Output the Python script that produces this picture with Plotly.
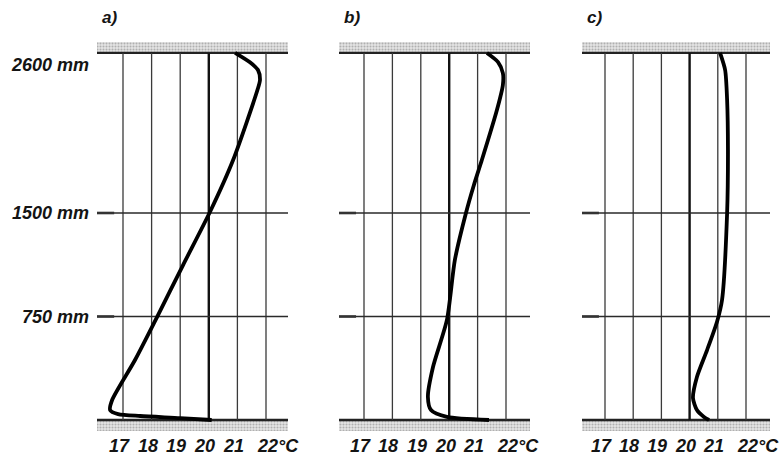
import plotly.graph_objects as go

# Temperature grid (°C) and labelled heights (mm)
grid_temps = [17, 18, 19, 20, 21, 22]
temp_labels = ["17", "18", "19", "20", "21", "22°C"]
height_marks = [750, 1500]
height_labels = ["750 mm", "1500 mm", "2600 mm"]
height_label_pos = [750, 1500, 2600]

CEILING = 2660   # underside of the ceiling slab, mm
SLAB = 80        # drawn slab thickness, mm

# Vertical temperature profiles: a) b) c)
a_temp = [20.92, 21.45, 21.72, 21.79, 21.70, 20.85, 20.04, 19.10, 18.19, 17.42, 16.62, 16.55, 16.83, 17.60, 19.00, 20.10]
a_h = [2660, 2590, 2536, 2464, 2391, 1884, 1507, 1123, 746, 435, 145, 72, 43, 29, 14, 0]

b_temp = [21.33, 21.72, 21.89, 21.89, 21.68, 21.15, 20.87, 20.59, 20.20, 19.92, 19.43, 19.25, 19.36, 19.92, 21.40]
b_h = [2660, 2594, 2514, 2428, 2246, 1884, 1703, 1500, 1160, 725, 384, 167, 72, 22, 0]

c_temp = [21.08, 21.26, 21.33, 21.36, 21.33, 21.15, 20.97, 20.62, 20.26, 20.12, 20.26, 20.51, 20.69]
c_h = [2660, 2536, 2319, 1957, 1500, 870, 710, 507, 312, 159, 72, 22, 0]

profiles = [("a)", a_temp, a_h), ("b)", b_temp, b_h), ("c)", c_temp, c_h)]

W, H = 779, 462
# panel geometry in pixels: left/right edge of slabs, position of 17 and 22 lines
panels_px = [(97, 288, 123, 266), (339, 530, 364, 506), (582, 770, 605, 746)]
floor_px, px_per_mm = 420.0, 0.138
y_range = [(floor_px - H) / px_per_mm, floor_px / px_per_mm]

FONT = "Liberation Sans"
TXT = "#141414"
fig = go.Figure()
layout = dict(width=W, height=H, margin=dict(l=0, r=0, t=0, b=0),
              plot_bgcolor="rgba(0,0,0,0)", paper_bgcolor="white", showlegend=False)

annotations = []
for i, ((letter, temps, hs), (l, r, x17, x22)) in enumerate(zip(profiles, panels_px)):
    k = "" if i == 0 else str(i + 1)
    xa, ya = "x" + k, "y" + k
    scale = (x22 - x17) / 5.0
    xmin = 17 - (x17 - l) / scale
    xmax = 22 + (r - x22) / scale
    layout["xaxis" + k] = dict(domain=[0, 1], range=[17 - x17 / scale, 17 + (W - x17) / scale],
                               visible=False, fixedrange=True)
    layout["yaxis" + k] = dict(domain=[0, 1], range=y_range, visible=False, fixedrange=True)

    # slabs: ceiling and floor, stippled
    for y0, y1 in [(CEILING, CEILING + SLAB), (-SLAB, 0)]:
        fig.add_trace(go.Scatter(
            x=[xmin, xmax, xmax, xmin, xmin], y=[y0, y0, y1, y1, y0],
            mode="lines", fill="toself", line=dict(width=0, color="rgba(0,0,0,0)"),
            fillcolor="#d8d8d8",
            fillpattern=dict(shape=".", size=3, solidity=0.4, fgcolor="#7a7a7a", bgcolor="#e6e6e6"),
            xaxis=xa, yaxis=ya, hoverinfo="skip"))
    for yy in [CEILING, 0]:
        fig.add_trace(go.Scatter(x=[xmin, xmax], y=[yy, yy], mode="lines",
                                 line=dict(color="#222", width=2.4), xaxis=xa, yaxis=ya, hoverinfo="skip"))

    # vertical temperature lines
    for t in grid_temps:
        fig.add_trace(go.Scatter(x=[t, t], y=[0, CEILING], mode="lines",
                                 line=dict(color="#111" if t == 20 else "#3a3a3a",
                                           width=2.4 if t == 20 else 1.3),
                                 xaxis=xa, yaxis=ya, hoverinfo="skip"))
    # horizontal height lines
    for hm in height_marks:
        fig.add_trace(go.Scatter(x=[xmin, xmax], y=[hm, hm], mode="lines",
                                 line=dict(color="#2a2a2a", width=1.3),
                                 xaxis=xa, yaxis=ya, hoverinfo="skip"))
        fig.add_trace(go.Scatter(x=[xmin, xmin + 0.6], y=[hm, hm], mode="lines",
                                 line=dict(color="#333", width=2.6),
                                 xaxis=xa, yaxis=ya, hoverinfo="skip"))

    # temperature profile
    fig.add_trace(go.Scatter(x=temps, y=hs, mode="lines",
                             line=dict(color="black", width=3.8, shape="spline", smoothing=0.7),
                             xaxis=xa, yaxis=ya, hoverinfo="skip"))

    # panel letter
    annotations.append(dict(text=f"<b><i>{letter}</i></b>", x=(l + 3) / W, y=1 - 17 / H,
                            xref="paper", yref="paper", xanchor="left", yanchor="middle",
                            showarrow=False, font=dict(family=FONT, size=17, color=TXT)))
    # temperature labels
    for t, lab in zip(grid_temps, temp_labels):
        if lab.endswith("°C"):
            annotations.append(dict(text=f"<b><i>{lab}</i></b>", x=t - 0.38, y=-185, xref=xa, yref=ya,
                                    xanchor="left", yanchor="middle", showarrow=False,
                                    font=dict(family=FONT, size=18, color=TXT)))
        else:
            annotations.append(dict(text=f"<b><i>{lab}</i></b>", x=t - 0.14, y=-185, xref=xa, yref=ya,
                                    xanchor="center", yanchor="middle", showarrow=False,
                                    font=dict(family=FONT, size=18, color=TXT)))

# height labels on the left
for lab, hv in zip(height_labels, height_label_pos):
    annotations.append(dict(text=f"<b><i>{lab}</i></b>", x=91 / W, y=hv, xref="paper", yref="y",
                            xanchor="right", yanchor="middle", showarrow=False,
                            yshift=-4 if hv == 2600 else 0,
                            font=dict(family=FONT, size=18, color=TXT)))

layout["annotations"] = annotations
fig.update_layout(**layout)
fig.write_html("out.html")
